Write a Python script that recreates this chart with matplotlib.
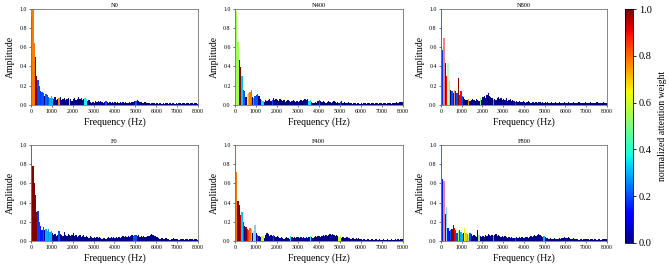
import matplotlib
matplotlib.use("Agg")
import matplotlib.pyplot as plt
import numpy as np

plt.rcParams['font.family'] = ['Liberation Serif', 'DejaVu Serif']

# spectrum bins: 128 bins of 62.5 Hz from 0 to 8000 Hz
bin_width = 62.5
freqs = np.arange(128) * bin_width

titles = ['N0', 'N400', 'N800', 'F0', 'F400', 'F800']

n0_amp = [0.92, 1.00, 0.64, 0.50, 0.30, 0.26, 0.20, 0.14, 0.13, 0.12, 0.09, 0.11, 0.10, 0.08, 0.07, 0.09,
          0.07, 0.06, 0.08, 0.05, 0.06, 0.07, 0.08, 0.05, 0.06, 0.07, 0.05, 0.06, 0.07, 0.05, 0.06, 0.04,
          0.06, 0.07, 0.05, 0.06, 0.08, 0.06, 0.07, 0.05, 0.06, 0.07, 0.06, 0.04, 0.05, 0.03, 0.02, 0.03,
          0.02, 0.04, 0.03, 0.04, 0.03, 0.04, 0.03, 0.02, 0.03, 0.04, 0.03, 0.02, 0.03, 0.02, 0.03, 0.02,
          0.03, 0.02, 0.03, 0.02, 0.03, 0.02, 0.03, 0.02, 0.03, 0.02, 0.02, 0.03, 0.02, 0.03, 0.03, 0.04,
          0.04, 0.05, 0.04, 0.03, 0.03, 0.02, 0.02, 0.03, 0.02, 0.02, 0.02, 0.01, 0.02, 0.02, 0.02, 0.01,
          0.02, 0.01, 0.02, 0.02, 0.01, 0.02, 0.01, 0.02, 0.02, 0.01, 0.02, 0.01, 0.02, 0.02, 0.01, 0.02,
          0.01, 0.02, 0.02, 0.01, 0.02, 0.02, 0.01, 0.02, 0.02, 0.01, 0.02, 0.02, 0.01, 0.02, 0.02, 0.01]
n0_hot_bins = [0, 1, 2, 3, 4, 5, 6, 7, 8, 9, 11, 12, 13, 14, 15, 16, 21, 29, 41, 42, 57, 80]
n0_hot_w = [0.78, 0.78, 0.78, 1.0, 1.0, 0.2, 0.2, 0.18, 0.2, 0.9, 0.22, 0.2, 0.22, 0.3, 0.3, 0.3,
            0.78, 0.5, 0.38, 0.38, 0.2, 0.2]
n0_faded = []

n400_amp = [1.00, 0.98, 0.65, 0.47, 0.39, 0.30, 0.16, 0.14, 0.08, 0.11, 0.12, 0.13, 0.16, 0.08, 0.07, 0.09,
            0.10, 0.11, 0.09, 0.06, 0.05, 0.04, 0.03, 0.05, 0.04, 0.05, 0.06, 0.04, 0.05, 0.07, 0.05, 0.06,
            0.05, 0.04, 0.06, 0.05, 0.04, 0.05, 0.03, 0.04, 0.05, 0.04, 0.03, 0.04, 0.05, 0.04, 0.03, 0.04,
            0.03, 0.04, 0.05, 0.04, 0.05, 0.06, 0.05, 0.06, 0.04, 0.05, 0.03, 0.02, 0.02, 0.03, 0.02, 0.04,
            0.05, 0.04, 0.03, 0.04, 0.03, 0.02, 0.03, 0.04, 0.03, 0.02, 0.03, 0.04, 0.03, 0.02, 0.03, 0.02,
            0.03, 0.04, 0.02, 0.03, 0.02, 0.02, 0.03, 0.02, 0.02, 0.01, 0.02, 0.02, 0.01, 0.02, 0.02, 0.01,
            0.02, 0.01, 0.02, 0.02, 0.01, 0.02, 0.02, 0.01, 0.02, 0.02, 0.01, 0.02, 0.02, 0.01, 0.02, 0.02,
            0.01, 0.02, 0.02, 0.01, 0.02, 0.02, 0.02, 0.01, 0.02, 0.02, 0.02, 0.03, 0.02, 0.03, 0.03, 0.03]
n400_hot_bins = [0, 1, 2, 3, 4, 5, 6, 7, 9, 10, 11, 12, 14, 15, 16, 17, 20, 21, 28, 56, 57, 64, 80]
n400_hot_w = [0.55, 0.55, 0.55, 1.0, 1.0, 0.32, 0.2, 0.2, 0.65, 0.72, 0.78, 0.8, 0.3, 0.2, 0.2, 0.2,
              0.35, 0.35, 0.2, 0.35, 0.35, 0.2, 0.2]
n400_faded = []

n800_amp = [1.00, 0.57, 0.70, 0.44, 0.30, 0.44, 0.25, 0.16, 0.14, 0.12, 0.16, 0.14, 0.12, 0.28, 0.10, 0.14,
            0.09, 0.08, 0.06, 0.05, 0.05, 0.06, 0.04, 0.05, 0.06, 0.05, 0.04, 0.06, 0.05, 0.04, 0.07, 0.05,
            0.08, 0.09, 0.07, 0.10, 0.12, 0.09, 0.08, 0.07, 0.05, 0.06, 0.05, 0.07, 0.08, 0.06, 0.07, 0.05,
            0.06, 0.05, 0.07, 0.04, 0.05, 0.06, 0.04, 0.05, 0.04, 0.03, 0.04, 0.03, 0.04, 0.03, 0.03, 0.04,
            0.03, 0.02, 0.03, 0.04, 0.03, 0.02, 0.03, 0.03, 0.02, 0.03, 0.02, 0.03, 0.03, 0.02, 0.03, 0.02,
            0.03, 0.02, 0.03, 0.02, 0.02, 0.03, 0.02, 0.02, 0.03, 0.02, 0.02, 0.03, 0.02, 0.02, 0.02, 0.03,
            0.02, 0.02, 0.03, 0.02, 0.02, 0.02, 0.03, 0.02, 0.02, 0.02, 0.03, 0.02, 0.02, 0.02, 0.02, 0.03,
            0.02, 0.02, 0.02, 0.03, 0.02, 0.02, 0.02, 0.02, 0.03, 0.02, 0.02, 0.02, 0.02, 0.03, 0.02, 0.02]
n800_hot_bins = [0, 1, 2, 3, 4, 5, 6, 8, 9, 10, 11, 12, 13, 14, 15, 16, 21, 30, 40, 57]
n800_hot_w = [0.18, 0.18, 0.9, 1.0, 0.9, 0.5, 0.5, 0.2, 1.0, 0.9, 1.0, 0.2, 1.0, 0.9, 0.9, 0.2,
              0.75, 0.5, 0.3, 0.2]
n800_faded = [2, 5, 10]

f0_amp = [1.00, 0.78, 0.60, 0.48, 0.30, 0.31, 0.20, 0.16, 0.12, 0.15, 0.12, 0.13, 0.10, 0.13, 0.09, 0.11,
          0.08, 0.06, 0.07, 0.05, 0.06, 0.10, 0.07, 0.06, 0.05, 0.09, 0.06, 0.05, 0.07, 0.06, 0.05, 0.06,
          0.08, 0.05, 0.06, 0.04, 0.05, 0.06, 0.04, 0.05, 0.06, 0.04, 0.05, 0.04, 0.03, 0.05, 0.04, 0.03,
          0.04, 0.03, 0.04, 0.03, 0.04, 0.03, 0.02, 0.03, 0.03, 0.02, 0.03, 0.04, 0.03, 0.04, 0.03, 0.04,
          0.03, 0.04, 0.03, 0.04, 0.03, 0.04, 0.05, 0.04, 0.05, 0.04, 0.05, 0.04, 0.05, 0.06, 0.05, 0.06,
          0.06, 0.05, 0.06, 0.04, 0.05, 0.04, 0.05, 0.04, 0.04, 0.05, 0.05, 0.06, 0.07, 0.06, 0.05, 0.05,
          0.04, 0.03, 0.02, 0.02, 0.03, 0.02, 0.02, 0.03, 0.02, 0.02, 0.01, 0.02, 0.02, 0.03, 0.02, 0.02,
          0.02, 0.01, 0.02, 0.02, 0.02, 0.01, 0.02, 0.02, 0.01, 0.02, 0.02, 0.02, 0.01, 0.02, 0.02, 0.01]
f0_hot_bins = [0, 1, 2, 3, 4, 5, 6, 7, 8, 9, 11, 12, 13, 14, 15, 21, 78, 79, 80]
f0_hot_w = [0.9, 1.0, 1.0, 1.0, 1.0, 0.18, 0.18, 0.15, 0.15, 0.9, 0.3, 0.3, 0.28, 0.3, 0.3, 0.2,
            0.2, 0.2, 0.2]
f0_faded = []

f400_amp = [1.00, 0.72, 0.42, 0.38, 0.27, 0.30, 0.20, 0.16, 0.15, 0.13, 0.12, 0.14, 0.13, 0.08, 0.10, 0.17,
            0.08, 0.06, 0.05, 0.04, 0.05, 0.05, 0.03, 0.06, 0.08, 0.07, 0.05, 0.06, 0.05, 0.06, 0.05, 0.04,
            0.05, 0.04, 0.03, 0.04, 0.03, 0.02, 0.03, 0.04, 0.03, 0.02, 0.05, 0.04, 0.03, 0.04, 0.03, 0.04,
            0.04, 0.03, 0.04, 0.03, 0.04, 0.03, 0.04, 0.03, 0.04, 0.05, 0.04, 0.03, 0.04, 0.05, 0.04, 0.05,
            0.05, 0.04, 0.05, 0.06, 0.05, 0.06, 0.05, 0.06, 0.07, 0.06, 0.07, 0.06, 0.05, 0.06, 0.05, 0.04,
            0.05, 0.03, 0.04, 0.03, 0.03, 0.04, 0.03, 0.03, 0.02, 0.03, 0.03, 0.02, 0.03, 0.02, 0.03, 0.02,
            0.02, 0.01, 0.02, 0.01, 0.01, 0.02, 0.01, 0.01, 0.02, 0.01, 0.01, 0.02, 0.01, 0.01, 0.02, 0.01,
            0.01, 0.02, 0.01, 0.01, 0.02, 0.01, 0.01, 0.02, 0.01, 0.01, 0.02, 0.01, 0.02, 0.01, 0.02, 0.02]
f400_hot_bins = [0, 1, 2, 3, 4, 5, 6, 8, 9, 10, 11, 12, 14, 15, 17, 20, 21, 29, 42, 57, 79, 80]
f400_hot_w = [0.78, 0.78, 1.0, 1.0, 0.95, 0.32, 0.2, 1.0, 0.9, 0.85, 0.8, 0.72, 0.5, 0.28, 0.2,
              0.6, 0.6, 0.2, 0.35, 0.4, 0.6, 0.6]
f400_faded = [15]

f800_amp = [1.00, 0.65, 0.63, 0.28, 0.35, 0.14, 0.10, 0.12, 0.13, 0.17, 0.14, 0.12, 0.08, 0.10, 0.12, 0.09,
            0.07, 0.08, 0.14, 0.08, 0.07, 0.06, 0.08, 0.07, 0.05, 0.06, 0.05, 0.04, 0.12, 0.06, 0.05, 0.04,
            0.05, 0.04, 0.06, 0.05, 0.07, 0.06, 0.05, 0.06, 0.05, 0.06, 0.07, 0.05, 0.06, 0.05, 0.04, 0.05,
            0.04, 0.05, 0.04, 0.03, 0.04, 0.03, 0.04, 0.03, 0.03, 0.03, 0.04, 0.03, 0.04, 0.03, 0.04, 0.03,
            0.03, 0.04, 0.04, 0.03, 0.04, 0.05, 0.04, 0.05, 0.06, 0.05, 0.06, 0.07, 0.06, 0.05, 0.04, 0.05,
            0.04, 0.03, 0.03, 0.02, 0.03, 0.02, 0.02, 0.03, 0.02, 0.02, 0.02, 0.03, 0.02, 0.03, 0.03, 0.04,
            0.03, 0.03, 0.04, 0.03, 0.02, 0.02, 0.03, 0.02, 0.02, 0.02, 0.01, 0.02, 0.02, 0.01, 0.02, 0.02,
            0.02, 0.02, 0.01, 0.02, 0.02, 0.01, 0.02, 0.02, 0.01, 0.02, 0.02, 0.01, 0.02, 0.02, 0.02, 0.02]
f800_hot_bins = [0, 1, 2, 3, 4, 5, 7, 8, 9, 10, 11, 12, 13, 14, 15, 16, 18, 19, 20, 21, 22, 29, 40, 57, 79]
f800_hot_w = [0.18, 0.15, 0.9, 1.0, 0.3, 0.15, 0.2, 1.0, 1.0, 0.92, 0.9, 0.2, 0.55, 0.2, 0.3, 0.3,
              0.65, 0.7, 0.75, 0.55, 0.2, 0.5, 0.3, 0.2, 0.3]
f800_faded = [2, 4]

panels = [
    (n0_amp, n0_hot_bins, n0_hot_w, n0_faded),
    (n400_amp, n400_hot_bins, n400_hot_w, n400_faded),
    (n800_amp, n800_hot_bins, n800_hot_w, n800_faded),
    (f0_amp, f0_hot_bins, f0_hot_w, f0_faded),
    (f400_amp, f400_hot_bins, f400_hot_w, f400_faded),
    (f800_amp, f800_hot_bins, f800_hot_w, f800_faded),
]

cmap = plt.get_cmap('jet')

fig = plt.figure(figsize=(6.69, 2.67), dpi=100)

lefts = [0.0463, 0.351, 0.659]
widths = [0.2496, 0.251, 0.248]
bottoms = [0.607, 0.097]
height = 0.360

for i, (amp, hot_bins, hot_w, faded) in enumerate(panels):
    r, c = divmod(i, 3)
    ax = fig.add_axes([lefts[c], bottoms[r], widths[c], height])
    w = np.full(len(amp), 0.01)  # low-attention bins -> navy
    w[hot_bins] = hot_w
    colors = cmap(w)
    colors[faded, 3] = 0.5
    ax.bar(freqs, amp, width=bin_width, align='edge', color=colors, linewidth=0)
    ax.set_xlim(0, 8000)
    ax.set_ylim(0, 1.0)
    ax.set_xticks(np.arange(0, 8001, 1000))
    ax.set_yticks(np.arange(0, 1.01, 0.2))
    ax.yaxis.set_major_formatter(matplotlib.ticker.FormatStrFormatter('%.1f'))
    ax.tick_params(labelsize=4.2, length=1.5, width=0.4, pad=1.5)
    ax.set_title(titles[i], fontsize=4.6, pad=1.5)
    ax.set_ylabel('Amplitude', fontsize=7, labelpad=3)
    ax.set_xlabel('Frequency (Hz)', fontsize=7, labelpad=2.5)
    for s in ax.spines.values():
        s.set_color('0.45')
        s.set_linewidth(0.6)

cax = fig.add_axes([0.934, 0.09, 0.012, 0.876])
sm = matplotlib.cm.ScalarMappable(cmap=cmap, norm=matplotlib.colors.Normalize(0, 1))
cb = fig.colorbar(sm, cax=cax)
cb.set_ticks(np.arange(0, 1.01, 0.2))
cb.ax.yaxis.set_major_formatter(matplotlib.ticker.FormatStrFormatter('%.1f'))
cb.ax.tick_params(labelsize=7.5, length=2.5, width=0.6, pad=2)
cb.outline.set_linewidth(0.6)
cb.set_label('normalized attention weight', fontsize=7, labelpad=4)

fig.savefig('out.png', dpi=100)
